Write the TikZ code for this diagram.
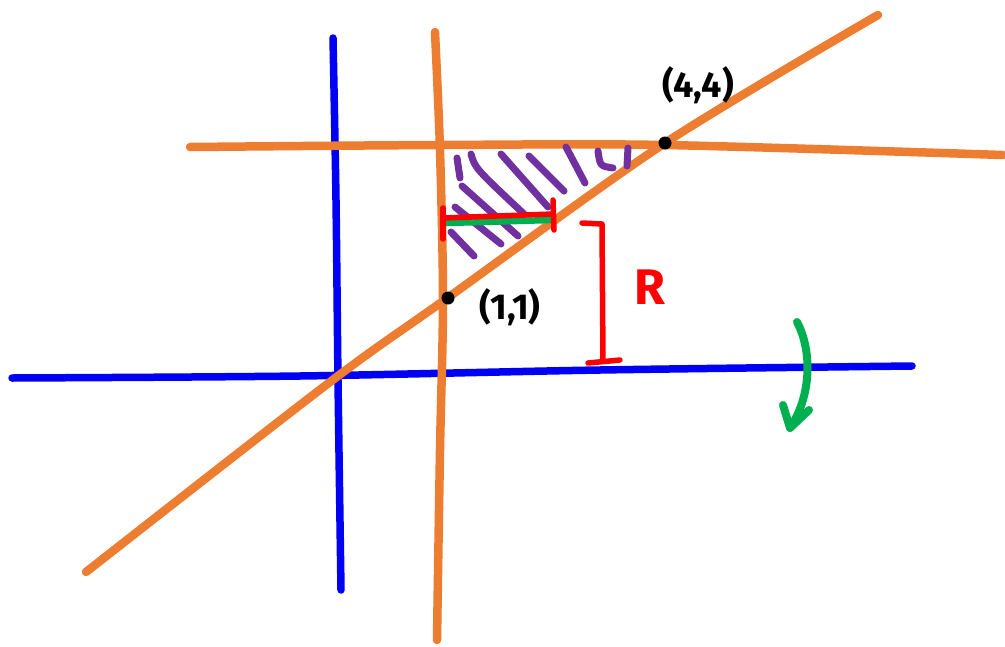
\documentclass[tikz,border=0pt]{standalone}
\usepackage{fontspec}
\setsansfont{Fira Sans}
\usetikzlibrary{calc}
\definecolor{pblue}{RGB}{0,0,245}
\definecolor{porange}{RGB}{237,125,49}
\definecolor{ppurple}{RGB}{112,48,160}
\definecolor{pred}{RGB}{255,0,0}
\definecolor{pgreen}{RGB}{0,176,80}
\tikzset{
  stroke/.style={line width=#1, line cap=round, line join=round},
  axis/.style={stroke=7.5pt, draw=pblue},
  oline/.style={stroke=8.5pt, draw=porange},
  hatch/.style={stroke=7pt, draw=ppurple},
  redl/.style={stroke=5.5pt, draw=pred},
  dot/.style={circle, fill=black, inner sep=0pt, minimum size=13pt},
  lab/.style={font=\sffamily\bfseries\fontsize{36}{36}\selectfont, inner sep=0pt}
}
\begin{document}
\begin{tikzpicture}[x=1pt,y=-1pt]
\useasboundingbox (0,0) rectangle (1005,646);
% blue axes
\draw[axis] plot[smooth] coordinates {(333,38) (336,200) (338,380) (341,590)};
\draw[axis] plot[smooth] coordinates {(12,378) (300,376) (600,370) (912,366)};
% orange lines
\draw[oline] plot[smooth] coordinates {(435,32) (440,150) (443,300) (440,450) (437,640)};
\draw[oline] plot[smooth] coordinates {(190,147) (440,145) (665,145) (1003,155)};
\draw[oline] plot[smooth] coordinates {(86,572) (330,382) (446,299) (665,143) (878,15)};
% hatching
\draw[hatch] (457,158) -- (460,178);
\draw[hatch] (471,154) .. controls (475,168) .. (524,214);
\draw[hatch] (462,186) -- (518,236);
\draw[hatch] (455,207) -- (501,244);
\draw[hatch] (451,232) -- (474,256);
\draw[hatch] (501,154) -- (548,207);
\draw[hatch] (529,156) -- (564,191);
\draw[hatch] (566,147) -- (585,183);
\draw[hatch] (598,151) .. controls (600,166) .. (613,168);
\draw[hatch] (628,148) -- (627,166);
% green segment and red bracket
\coordinate (gL) at (446,223);
\coordinate (gR) at (552,220);
\draw[stroke=6.5pt, draw=pgreen] (gL) -- (gR);
\draw[redl] (443,218) -- (553,214);
\draw[redl] (443,208) -- (443,239);
\draw[redl] (553,200) -- (554,230);
% R bracket
\coordinate (rt) at (602,224);
\coordinate (rb) at (603,361);
\draw[redl] (582,223) -- (rt) -- (rb);
\draw[redl] (588,363) -- (620,360);
\node[lab, text=pred, font=\sffamily\bfseries\fontsize{50}{50}\selectfont] (R) at (650,287) {R};
% points
\node[dot] (p44) at (665,143) {};
\node[dot] (p11) at (448,298) {};
\node[lab] (l44) at (698,85) {(4,4)};
\node[lab] (l11) at (510,307) {(1,1)};
% green arrow
\coordinate (gs) at (797,322);
\coordinate (ge) at (790,428);
\draw[stroke=8pt, draw=pgreen] (gs) .. controls (812,350) and (812,395) .. (ge);
\draw[stroke=8pt, draw=pgreen] (783,405) -- (ge) -- (809,410);
\end{tikzpicture}
\end{document}
